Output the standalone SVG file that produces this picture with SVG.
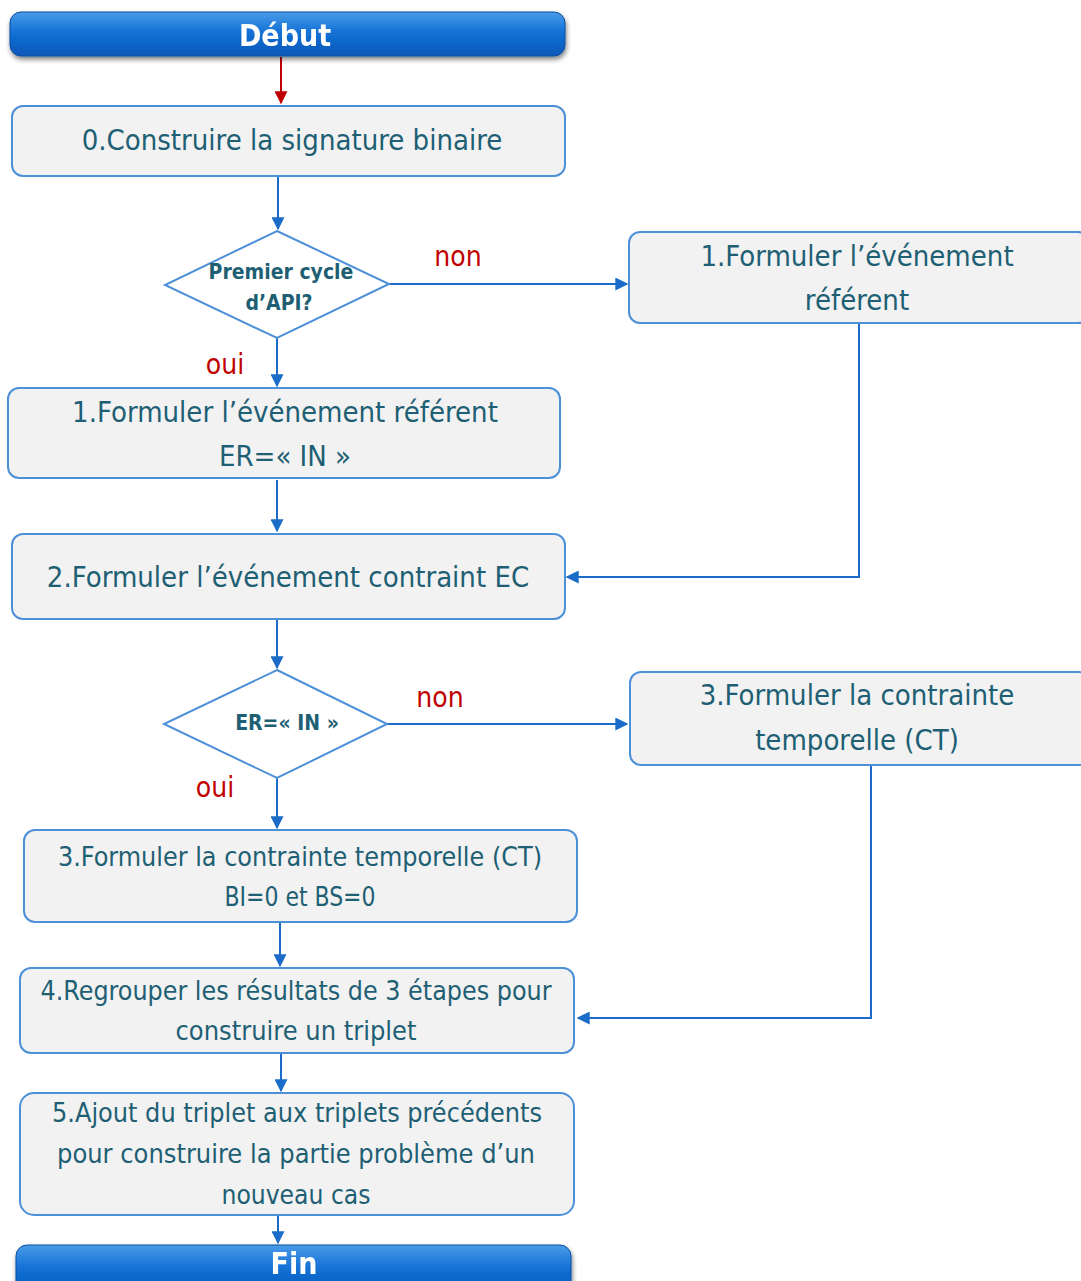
<svg xmlns="http://www.w3.org/2000/svg" width="1081" height="1281" viewBox="0 0 1081 1281">
<defs>
<linearGradient id="term" x1="0" y1="0" x2="0" y2="1">
<stop offset="0" stop-color="#4a9be8"/>
<stop offset="0.45" stop-color="#1472d6"/>
<stop offset="1" stop-color="#0657b8"/>
</linearGradient>
<filter id="shadow" x="-5%" y="-30%" width="110%" height="180%">
<feGaussianBlur in="SourceAlpha" stdDeviation="2.5"/>
<feOffset dx="1" dy="3" result="b"/>
<feComponentTransfer><feFuncA type="linear" slope="0.5"/></feComponentTransfer>
<feMerge><feMergeNode/><feMergeNode in="SourceGraphic"/></feMerge>
</filter>
<marker id="arr" viewBox="0 0 10 10" refX="9" refY="5" markerWidth="6.5" markerHeight="6.5" orient="auto" markerUnits="strokeWidth">
<path d="M0,0 L10,5 L0,10 z" fill="#1a6cc8"/>
</marker>
<marker id="arrRed" viewBox="0 0 10 10" refX="9" refY="5" markerWidth="6.5" markerHeight="6.5" orient="auto" markerUnits="strokeWidth">
<path d="M0,0 L10,5 L0,10 z" fill="#c00000"/>
</marker>
</defs>
<style>
.box{fill:#f2f2f2;stroke:#4d90d8;stroke-width:2}
.dia{fill:#ffffff;stroke:#4d90d8;stroke-width:2}
.term{fill:url(#term);stroke:#0a4fa0;stroke-width:1}
.t{font-family:"Liberation Sans Narrow","DejaVu Sans Condensed","Liberation Sans",sans-serif;font-size:29px;fill:#1e5f74;text-anchor:middle;dominant-baseline:central}
.s{font-size:27px}
.tb{font-family:"Liberation Sans Narrow","DejaVu Sans Condensed","Liberation Sans",sans-serif;font-size:21px;font-weight:bold;fill:#1e5f74;text-anchor:middle;dominant-baseline:central}
.tw{font-family:"Liberation Sans Narrow","DejaVu Sans Condensed","Liberation Sans",sans-serif;font-size:30px;font-weight:bold;fill:#ffffff;text-anchor:middle;dominant-baseline:central}
.lbl{font-family:"Liberation Sans Narrow","DejaVu Sans Condensed","Liberation Sans",sans-serif;font-size:28px;fill:#c00000;text-anchor:middle;dominant-baseline:central}
.c{fill:none;stroke:#1a6cc8;stroke-width:2;marker-end:url(#arr)}
</style>
<rect width="1081" height="1281" fill="#ffffff"/>

<g id="connectors">
<line x1="281" y1="57" x2="281" y2="103" fill="none" stroke="#c00000" stroke-width="2" marker-end="url(#arrRed)"/>
<line class="c" x1="278" y1="177" x2="278" y2="229"/>
<line class="c" x1="389" y1="284" x2="627" y2="284"/>
<line class="c" x1="277" y1="338" x2="277" y2="386"/>
<polyline class="c" points="859,323 859,577 567,577"/>
<line class="c" x1="277" y1="480" x2="277" y2="531"/>
<line class="c" x1="277" y1="620" x2="277" y2="668"/>
<line class="c" x1="387" y1="724" x2="627" y2="724"/>
<line class="c" x1="277" y1="778" x2="277" y2="828"/>
<polyline class="c" points="871,765 871,1018 578,1018"/>
<line class="c" x1="280" y1="923" x2="280" y2="966"/>
<line class="c" x1="281" y1="1054" x2="281" y2="1091"/>
<line class="c" x1="278" y1="1216" x2="278" y2="1243"/>
<text class="lbl" x="458" y="256">non</text>
<text class="lbl" x="225" y="364">oui</text>
<text class="lbl" x="440" y="697">non</text>
<text class="lbl" x="215" y="787">oui</text>
</g>

<g id="debut" filter="url(#shadow)">
<rect class="term" x="10" y="12" width="555" height="44" rx="11"/>
<text class="tw" x="285" y="35">Début</text>
</g>

<g id="step0">
<rect class="box" x="12" y="106" width="553" height="70" rx="11"/>
<text class="t" x="292" y="140">0.Construire la signature binaire</text>
</g>

<g id="dec1">
<polygon class="dia" points="277,231 389,284 277,338 165,285"/>
<text class="tb" x="281" y="272">Premier cycle</text>
<text class="tb" x="279" y="303">d’API?</text>
</g>

<g id="step1right">
<rect class="box" x="629" y="232" width="460" height="91" rx="11"/>
<text class="t" x="857" y="256">1.Formuler l’événement</text>
<text class="t" x="857" y="300">référent</text>
</g>

<g id="step1left">
<rect class="box" x="8" y="388" width="552" height="90" rx="11"/>
<text class="t" x="285" y="412">1.Formuler l’événement référent</text>
<text class="t" x="285" y="456">ER=« IN »</text>
</g>

<g id="step2">
<rect class="box" x="12" y="534" width="553" height="85" rx="11"/>
<text class="t" x="288" y="577">2.Formuler l’événement contraint EC</text>
</g>

<g id="dec2">
<polygon class="dia" points="277,670 387,724 277,778 164,724"/>
<text class="tb" x="287" y="723">ER=« IN »</text>
</g>

<g id="step3right">
<rect class="box" x="630" y="672" width="460" height="93" rx="11"/>
<text class="t" x="857" y="695">3.Formuler la contrainte</text>
<text class="t" x="857" y="740">temporelle (CT)</text>
</g>

<g id="step3left">
<rect class="box" x="24" y="830" width="553" height="92" rx="11"/>
<text class="t s" x="300" y="856" textLength="484" lengthAdjust="spacingAndGlyphs">3.Formuler la contrainte temporelle (CT)</text>
<text class="t s" x="300" y="896" textLength="151" lengthAdjust="spacingAndGlyphs">BI=0 et BS=0</text>
</g>

<g id="step4">
<rect class="box" x="20" y="968" width="554" height="85" rx="11"/>
<text class="t s" x="296" y="990" textLength="511" lengthAdjust="spacingAndGlyphs">4.Regrouper les résultats de 3 étapes pour</text>
<text class="t s" x="296" y="1030" textLength="241" lengthAdjust="spacingAndGlyphs">construire un triplet</text>
</g>

<g id="step5">
<rect class="box" x="20" y="1093" width="554" height="122" rx="14"/>
<text class="t s" x="297" y="1112" textLength="490" lengthAdjust="spacingAndGlyphs">5.Ajout du triplet aux triplets précédents</text>
<text class="t s" x="296" y="1153" textLength="478" lengthAdjust="spacingAndGlyphs">pour construire la partie problème d’un</text>
<text class="t s" x="296" y="1194" textLength="149" lengthAdjust="spacingAndGlyphs">nouveau cas</text>
</g>

<g id="fin" filter="url(#shadow)">
<rect class="term" x="16" y="1245" width="555" height="50" rx="11"/>
<text class="tw" x="294" y="1263">Fin</text>
</g>
</svg>
